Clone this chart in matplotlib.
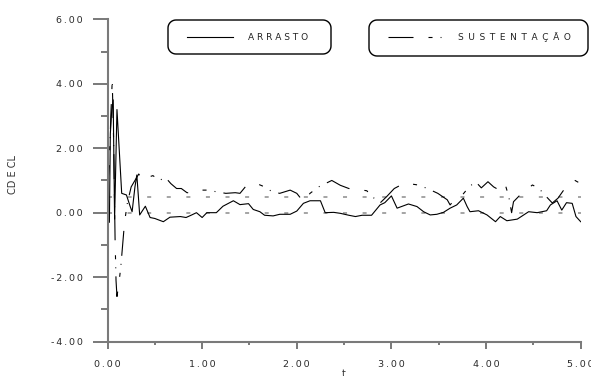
import numpy as np
import matplotlib
matplotlib.use('Agg')
import matplotlib.pyplot as plt
from matplotlib.patches import PathPatch
from matplotlib.path import Path
from matplotlib.ticker import MultipleLocator

plt.rcParams['font.family'] = ['DejaVu Sans']
plt.rcParams['lines.scale_dashes'] = False

# drag coefficient (ARRASTO)
t_cd = [0.0, 0.02, 0.03, 0.045, 0.06, 0.075, 0.1, 0.15, 0.2, 0.24, 0.26, 0.29, 0.31,
        0.34, 0.4, 0.45, 0.5, 0.59, 0.66, 0.77, 0.83, 0.89, 0.94, 1.0, 1.05, 1.15,
        1.22, 1.33, 1.4, 1.49, 1.54, 1.61, 1.66, 1.75, 1.82, 1.93, 2.0, 2.07, 2.14,
        2.25, 2.3, 2.39, 2.46, 2.55, 2.62, 2.69, 2.79, 2.88, 2.93, 3.0, 3.06, 3.18,
        3.27, 3.34, 3.41, 3.48, 3.55, 3.62, 3.69, 3.76, 3.8, 3.83, 3.92, 4.01, 4.1,
        4.15, 4.22, 4.33, 4.45, 4.54, 4.64, 4.68, 4.75, 4.8, 4.85, 4.91, 4.95, 5.0]
cd = [0.0, -0.3, 2.45, 3.2, 3.5, -0.2, 3.2, 0.6, 0.55, 0.19, 0.03, 0.8, 1.17,
      -0.07, 0.2, -0.15, -0.18, -0.28, -0.14, -0.12, -0.15, -0.07, 0.0, -0.15, 0.0, 0.0,
      0.2, 0.37, 0.25, 0.28, 0.1, 0.03, -0.08, -0.1, -0.05, -0.05, 0.05, 0.29, 0.37,
      0.37, 0.0, 0.01, -0.02, -0.08, -0.12, -0.08, -0.08, 0.24, 0.31, 0.52, 0.14, 0.27,
      0.19, 0.03, -0.07, -0.05, 0.01, 0.14, 0.24, 0.45, 0.19, 0.03, 0.06, -0.07, -0.28,
      -0.12, -0.25, -0.2, 0.03, 0.0, 0.06, 0.24, 0.37, 0.08, 0.31, 0.29, -0.12, -0.28]

# lift coefficient (SUSTENTACAO)
t_cl = [0.0, 0.02, 0.035, 0.05, 0.065, 0.08, 0.09, 0.1, 0.12, 0.14, 0.18, 0.21, 0.25,
        0.29, 0.33, 0.375, 0.43, 0.48, 0.55, 0.61, 0.67, 0.73, 0.78, 0.84, 0.9, 0.95,
        1.05, 1.15, 1.25, 1.35, 1.4, 1.47, 1.58, 1.66, 1.74, 1.82, 1.93, 2.0, 2.07,
        2.14, 2.23, 2.37, 2.46, 2.55, 2.65, 2.74, 2.8, 2.88, 2.95, 3.03, 3.14, 3.28,
        3.38, 3.49, 3.59, 3.62, 3.68, 3.75, 3.82, 3.89, 3.95, 4.02, 4.08, 4.14, 4.2,
        4.24, 4.27, 4.29, 4.36, 4.49, 4.56, 4.62, 4.7, 4.76, 4.82, 4.87, 4.94, 4.97, 5.0]
cl = [0.7, 1.5, 3.0, 4.1, 2.2, -0.8, -2.1, -2.6, -2.2, -1.7, -0.3, 0.3, 0.8,
      1.0, 1.2, 1.0, 1.1, 1.15, 1.0, 1.1, 0.9, 0.75, 0.75, 0.62, 0.62, 0.7,
      0.7, 0.65, 0.6, 0.62, 0.6, 0.85, 0.9, 0.8, 0.65, 0.6, 0.7, 0.6, 0.34,
      0.6, 0.8, 1.0, 0.85, 0.75, 0.72, 0.68, 0.49, 0.3, 0.5, 0.75, 0.92, 0.86,
      0.75, 0.6, 0.4, 0.24, 0.45, 0.55, 0.8, 0.96, 0.77, 0.96, 0.8, 0.7, 0.9,
      0.5, 0.0, 0.34, 0.55, 0.86, 0.75, 0.55, 0.3, 0.45, 0.7, 0.86, 1.0, 0.95, 0.92]

ref_levels = [0.0, 0.5]
x_ticks = [0, 1, 2, 3, 4, 5]
y_ticks = [-4, -2, 0, 2, 4, 6]
series_labels = ['ARRASTO', 'SUSTENTAÇÃO']

W, H = 591, 376
AX_L, AX_R, AX_T, AX_B = 107.5, 580.7, 19.3, 341.6
fig = plt.figure(figsize=(W / 100, H / 100), dpi=100)
ax = fig.add_axes([AX_L / W, 1 - AX_B / H, (AX_R - AX_L) / W, (AX_B - AX_T) / H])

lift_ls = (0, (18, 10.8, 2.9, 5.8, 0.7, 5.8))
for lv in ref_levels:
    ax.axhline(lv, color='#8c8c8c', lw=1.1, linestyle=(0, (2.9, 11.2)))
ax.plot(t_cd, cd, color='black', lw=0.8)
ax.plot(t_cl, cl, color='black', lw=0.8, linestyle=lift_ls)

ax.set_xlim(0, 5)
ax.set_ylim(-4, 6)
for s in ['top', 'right']:
    ax.spines[s].set_visible(False)
for s in ['left', 'bottom']:
    ax.spines[s].set_color('#7a7a7a')
    ax.spines[s].set_linewidth(1.5)


def fmt(v):
    return '\u2009'.join(f'{v:.2f}')


ax.set_xticks(x_ticks)
ax.set_xticklabels([fmt(v) for v in x_ticks])
ax.set_yticks(y_ticks)
ax.set_yticklabels([fmt(v) for v in y_ticks])
ax.xaxis.set_minor_locator(MultipleLocator(0.5))
ax.yaxis.set_minor_locator(MultipleLocator(1))
ax.tick_params(axis='y', which='major', length=10.8, width=1.1, color='#555555',
               pad=7, labelsize=6.8, labelcolor='#2a2a2a')
ax.tick_params(axis='y', which='minor', length=5, width=1.1, color='#555555')
ax.tick_params(axis='x', which='major', length=5, width=1.1, color='#555555',
               pad=8, labelsize=6.8, labelcolor='#2a2a2a')
ax.tick_params(axis='x', which='minor', length=2.5, width=1.1, color='#555555')

ax.set_ylabel('CD E CL', fontsize=7, color='#333333')
ax.yaxis.set_label_coords(-0.189, 0.517)
ax.set_xlabel('t', fontsize=7, color='#333333')
ax.xaxis.set_label_coords(0.5, -0.085)


def to_axes(x, y):
    # pixel position (from top-left of the image) -> axes fraction
    return (x - AX_L) / (AX_R - AX_L), (AX_B - y) / (AX_B - AX_T)


def rounded_outline(x0, y0, x1, y1, r):
    pts = []
    for cx, cy, a0 in [(x1 - r, y0 + r, -90), (x1 - r, y1 - r, 0),
                       (x0 + r, y1 - r, 90), (x0 + r, y0 + r, 180)]:
        a = np.radians(np.linspace(a0, a0 + 90, 10))
        pts += [to_axes(cx + r * np.cos(v), cy + r * np.sin(v)) for v in a]
    pts.append(pts[0])
    return pts


boxes = [(168, 20, 331, 54), (369, 20, 588, 56)]
handles = [(187, 233, '-'), (388, 441, lift_ls)]
text_x = [248, 458]
letter_gap = [' ', ' \u2009']
for (x0, y0, x1, y1), (h0, h1, ls), tx, lab, gap in zip(boxes, handles, text_x,
                                                        series_labels, letter_gap):
    outline = Path(rounded_outline(x0, y0, x1, y1, 8), closed=True)
    ax.add_patch(PathPatch(outline, transform=ax.transAxes, clip_on=False,
                           facecolor='white', edgecolor='black', lw=1.0, zorder=10))
    (hx0, hy), (hx1, _) = to_axes(h0, 37), to_axes(h1, 37)
    ax.plot([hx0, hx1], [hy, hy], transform=ax.transAxes, clip_on=False,
            color='black', lw=0.8, linestyle=ls, zorder=11)
    ax.text(to_axes(tx, 37)[0], hy, gap.join(lab), transform=ax.transAxes,
            fontsize=6.5, va='center', ha='left', color='#222222', zorder=12)

fig.savefig('out.png', dpi=100)
